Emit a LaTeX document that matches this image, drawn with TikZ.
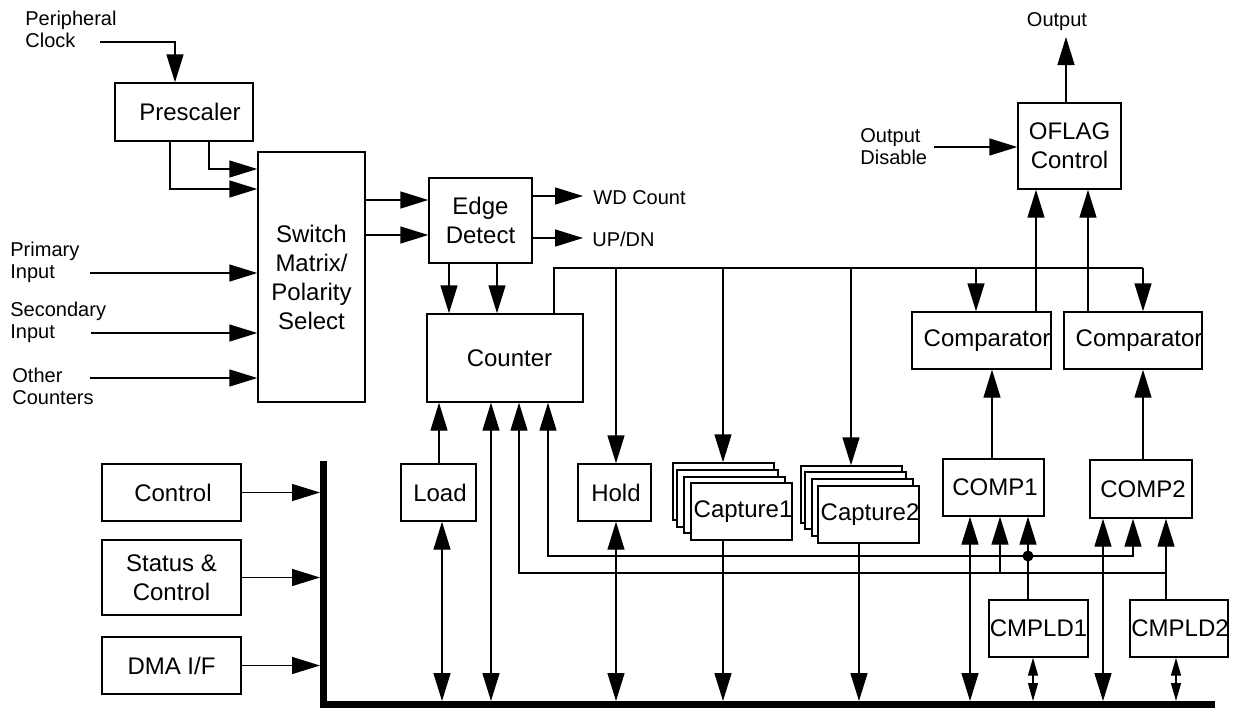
\documentclass[tikz,border=0pt]{standalone}
\usepackage{fontspec}
\setmainfont{Liberation Sans}
\usetikzlibrary{arrows.meta,fit}
\begin{document}
\begin{tikzpicture}[x=0.5pt,y=-0.5pt,
  blk/.style={draw, line width=0.7pt, inner sep=0pt, fill=white},
  btxt/.style={font=\fontsize{12}{14.5}\selectfont, align=center, inner sep=0pt},
  ltxt/.style={font=\fontsize{10}{11}\selectfont, align=left, inner sep=0pt, anchor=west},
  wire/.style={line width=0.7pt},
  arr/.style={wire, -{Triangle[length=14pt,width=8.5pt]}},
  darr/.style={wire, {Triangle[length=14pt,width=8.5pt]}-{Triangle[length=14pt,width=8.5pt]}},
  sdarr/.style={wire, {Triangle[length=9pt,width=5pt]}-{Triangle[length=9pt,width=5pt]}},
  busline/.style={line width=3.5pt, line join=miter}
]
\useasboundingbox (0,0) rectangle (1233,708);

% ---------- blocks ----------
\node[blk, fit={(115,83)(253,141)}] (pre) {};
\node[btxt] (preT) at ([xshift=3pt]pre.center) {Prescaler};
\node[blk, fit={(258,152)(365,402)}] (sw) {};
\node[btxt] (swT) at (sw.center) {Switch\\Matrix/\\Polarity\\Select};
\node[blk, fit={(429,178)(532,263)}] (ed) {};
\node[btxt] (edT) at (ed.center) {Edge\\Detect};
\node[blk, fit={(427,314)(583,402)}] (cnt) {};
\node[btxt] (cntT) at ([xshift=2.25pt]cnt.center) {Counter};
\node[blk, fit={(1018,103)(1121,189)}] (ofl) {};
\node[btxt] (oflT) at (ofl.center) {OFLAG\\Control};
\node[blk, fit={(912,312)(1051,369)}] (cmpA) {};
\node[btxt, anchor=west] (cmpAT) at ([xshift=6pt]cmpA.west) {Comparator};
\node[blk, fit={(1064,312)(1202,369)}] (cmpB) {};
\node[btxt, anchor=west] (cmpBT) at ([xshift=6pt]cmpB.west) {Comparator};
\node[blk, fit={(943,459)(1044,516)}] (cA) {};
\node[btxt] (cAT) at ([xshift=0.75pt]cA.center) {COMP1};
\node[blk, fit={(1090,460)(1192,518)}] (cB) {};
\node[btxt] (cBT) at ([xshift=1pt]cB.center) {COMP2};
\node[blk, fit={(989,600)(1088,657)}] (ldA) {};
\node[btxt] (ldAT) at (ldA.center) {CMPLD1};
\node[blk, fit={(1130,600)(1228,657)}] (ldB) {};
\node[btxt] (ldBT) at ([xshift=0.5pt]ldB.center) {CMPLD2};
\node[blk, fit={(401,464)(476,521)}] (load) {};
\node[btxt] (loadT) at ([xshift=0.75pt]load.center) {Load};
\node[blk, fit={(578,464)(651,521)}] (hold) {};
\node[btxt] (holdT) at ([xshift=0.75pt]hold.center) {Hold};
% capture stacks
\node[blk, fit={(673,463)(774,520)}] (cap1a) {};
\node[blk, fit={(677,470)(778,527)}] (cap1b) {};
\node[blk, fit={(684,477)(785,533)}] (cap1c) {};
\node[blk, fit={(691,483)(792,540)}] (cap1) {};
\node[btxt, anchor=west] (cap1T) at ([xshift=1.5pt]cap1.west) {Capture1};
\node[blk, fit={(801,466)(902,523)}] (cap2a) {};
\node[blk, fit={(805,472)(906,529)}] (cap2b) {};
\node[blk, fit={(812,479)(913,536)}] (cap2c) {};
\node[blk, fit={(818,486)(919,543)}] (cap2) {};
\node[btxt, anchor=west] (cap2T) at ([xshift=1.5pt]cap2.west) {Capture2};
% left blocks
\node[blk, fit={(102,464)(241,521)}] (ctrl) {};
\node[btxt] (ctrlT) at ([xshift=0.75pt]ctrl.center) {Control};
\node[blk, fit={(102,540)(241,615)}] (stat) {};
\node[btxt] (statT) at (stat.center) {Status \&\\Control};
\node[blk, fit={(102,637)(241,694)}] (dma) {};
\node[btxt] (dmaT) at (dma.center) {DMA I/F};

% ---------- labels ----------
\node[ltxt] (pclk) at (25,29) {Peripheral\\Clock};
\coordinate (pclkE) at (100,42);
\node[ltxt] (pin) at (10,262) {Primary\\Input};
\coordinate (pinE) at (90,273);
\node[ltxt] (sin) at (10,322) {Secondary\\Input};
\coordinate (sinE) at (91,333);
\node[ltxt] (oin) at (12,386) {Other\\Counters};
\coordinate (oinE) at (90,378);
\node[ltxt] (odis) at (860,147) {Output\\Disable};
\coordinate (odisE) at (934,147);
\node[ltxt, anchor=center] (out) at (1057,22) {Output};
\coordinate (outE) at (1066,37);
\node[ltxt] (wd) at (593,198) {WD Count};
\coordinate (wdE) at (583,196);
\node[ltxt] (ud) at (592,239) {UP/DN};
\coordinate (udE) at (583,238);

% ---------- connectors ----------
\draw[arr] (pclkE) -| (pre.north -| 175,0);
\draw[arr] (pre.south -| 209,0) |- (sw.west |- 0,169);
\draw[arr] (pre.south -| 170,0) |- (sw.west |- 0,189);
\draw[arr] (pinE) -- (sw.west |- pinE);
\draw[arr] (sinE) -- (sw.west |- sinE);
\draw[arr] (oinE) -- (sw.west |- oinE);
\draw[arr] (sw.east |- 0,200) -- (ed.west |- 0,200);
\draw[arr] (sw.east |- 0,235) -- (ed.west |- 0,235);
\draw[arr] (ed.east |- wdE) -- (wdE);
\draw[arr] (ed.east |- udE) -- (udE);
\draw[arr] (ed.south -| 449,0) -- (cnt.north -| 449,0);
\draw[arr] (ed.south -| 497,0) -- (cnt.north -| 497,0);

% counter output line
\coordinate (cb0) at (554,268);
\coordinate (cbH) at (616,268);
\coordinate (cbC1) at (723,268);
\coordinate (cbC2) at (851,268);
\coordinate (cbA) at (976,268);
\coordinate (cbB) at (1143,268);
\draw[wire] (cnt.north -| cb0) -- (cb0) -- (cbB);
\draw[arr] (cbH) -- (hold.north -| cbH);
\draw[arr] (cbC1) -- (cap1a.north -| cbC1);
\draw[arr] (cbC2) -- (cap2a.north -| cbC2);
\draw[arr] (cbA) -- (cmpA.north -| cbA);
\draw[arr] (cbB) -- (cmpB.north -| cbB);

% comparators / OFLAG
\draw[arr] (cmpA.north -| 1036,0) -- (ofl.south -| 1036,0);
\draw[arr] (cmpB.north -| 1088,0) -- (ofl.south -| 1088,0);
\draw[arr] (ofl.north -| outE) -- (outE);
\draw[arr] (odisE) -- (ofl.west |- odisE);
\draw[arr] (cA.north -| 992,0) -- (cmpA.south -| 992,0);
\draw[arr] (cB.north -| 1143,0) -- (cmpB.south -| 1143,0);
\draw[arr] (load.north -| 439,0) -- (cnt.south -| 439,0);

% bus
\coordinate (busTop) at (0,701);
\coordinate (busLeft) at (320,0);
\draw[busline] (323.5,461) -- (323.5,704.5) -- (1215,704.5);
\draw[darr] (busTop -| 442,0) -- (load.south -| 442,0);
\draw[darr] (busTop -| 491,0) -- (cnt.south -| 491,0);
\draw[darr] (busTop -| 616,0) -- (hold.south -| 616,0);
\draw[arr] (cap1.south -| 723,0) -- (busTop -| 723,0);
\draw[arr] (cap2.south -| 859,0) -- (busTop -| 859,0);
\draw[darr] (busTop -| 970,0) -- (cA.south -| 970,0);
\draw[darr] (busTop -| 1103,0) -- (cB.south -| 1103,0);
\draw[sdarr] (ldA.south -| 1033,0) -- (busTop -| 1033,0);
\draw[sdarr] (ldB.south -| 1176,0) -- (busTop -| 1176,0);
\draw[arr] (ctrl.east) -- (busLeft |- ctrl.east);
\draw[arr] (stat.east) -- (busLeft |- stat.east);
\draw[arr] (dma.east) -- (busLeft |- dma.east);

% compare-load lines
\coordinate (j1) at (1028,556);
\coordinate (j2) at (1166,573);
\coordinate (j3) at (1000,573);
\draw[arr] (ldA.north -| j1) -- (cA.south -| j1);
\draw[arr] (j1) -| (cnt.south -| 548,0);
\draw[arr] (j1) -| (cB.south -| 1133,0);
\fill (j1) circle[radius=2.75pt];
\draw[arr] (ldB.north -| j2) -- (cB.south -| j2);
\draw[arr] (j2) -| (cnt.south -| 519,0);
\draw[arr] (j3) -- (cA.south -| j3);
\end{tikzpicture}
\end{document}
